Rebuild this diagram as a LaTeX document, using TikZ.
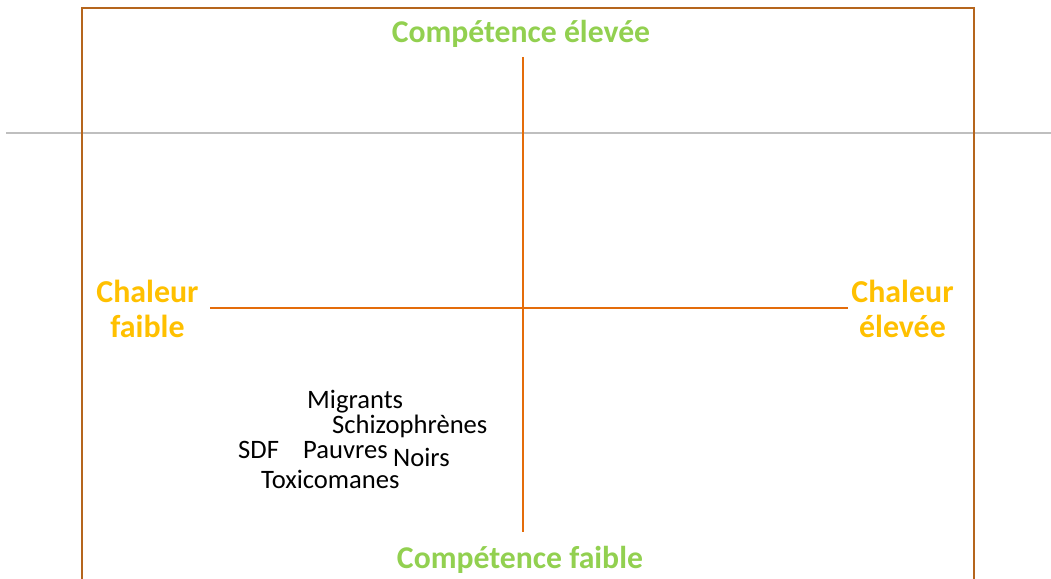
\documentclass[tikz,border=0pt]{standalone}
\usepackage{fontspec}
\setmainfont{Carlito}
\definecolor{boxbrown}{HTML}{B5651D}
\definecolor{axisorange}{HTML}{E46C0A}
\definecolor{warmth}{HTML}{FFC000}
\definecolor{competence}{HTML}{92D050}
\definecolor{rulegray}{HTML}{BFBFBF}
\begin{document}
\begin{tikzpicture}[x=1pt,y=-1pt,
  greenlbl/.style={font=\fontsize{31.7}{36}\selectfont\bfseries, text=competence, inner sep=0pt, anchor=base},
  warmlbl/.style={font=\fontsize{31.9}{35}\selectfont\bfseries, text=warmth, inner sep=0pt, align=center, anchor=base},
  grp/.style={font=\fontsize{26.6}{30}\selectfont, text=black, inner sep=0pt, anchor=base west},
  axisline/.style={draw=axisorange, line width=1.6pt}]
\useasboundingbox (0,0) rectangle (1051,578);
\clip (0,0) rectangle (1051,578);
% gray rule
\draw[rulegray, line width=1.6pt] (6,133) -- (1051,133);
% frame
\draw[boxbrown, line width=2pt] (82,590) -- (82,8) -- (974,8) -- (974,590);
% axes
\coordinate (vtop) at (523,57);
\coordinate (vbot) at (523,532);
\coordinate (hleft) at (210,308);
\coordinate (hright) at (848,308);
\draw[axisline] (vtop) -- (vbot);
\draw[axisline] (hleft) -- (hright);
% labels
\node[greenlbl] (ctop) at (521,43) {Compétence élevée};
\node[greenlbl] (cbot) at (520,568) {Compétence faible};
\node[warmlbl] (wleft) at (147.5,337) {Chaleur\\faible};
\node[warmlbl] (wright) at (902.5,337) {Chaleur\\élevée};
% groups
\node[grp] (migr) at (307,408) {Migrants};
\node[grp] (schiz) at (332,433) {Schizophrènes};
\node[grp] (sdf) at (238,458) {SDF};
\node[grp] (pauv) at (303,458) {Pauvres};
\node[grp] (noirs) at (393,466) {Noirs};
\node[grp] (toxi) at (261,488) {Toxicomanes};
\end{tikzpicture}
\end{document}
